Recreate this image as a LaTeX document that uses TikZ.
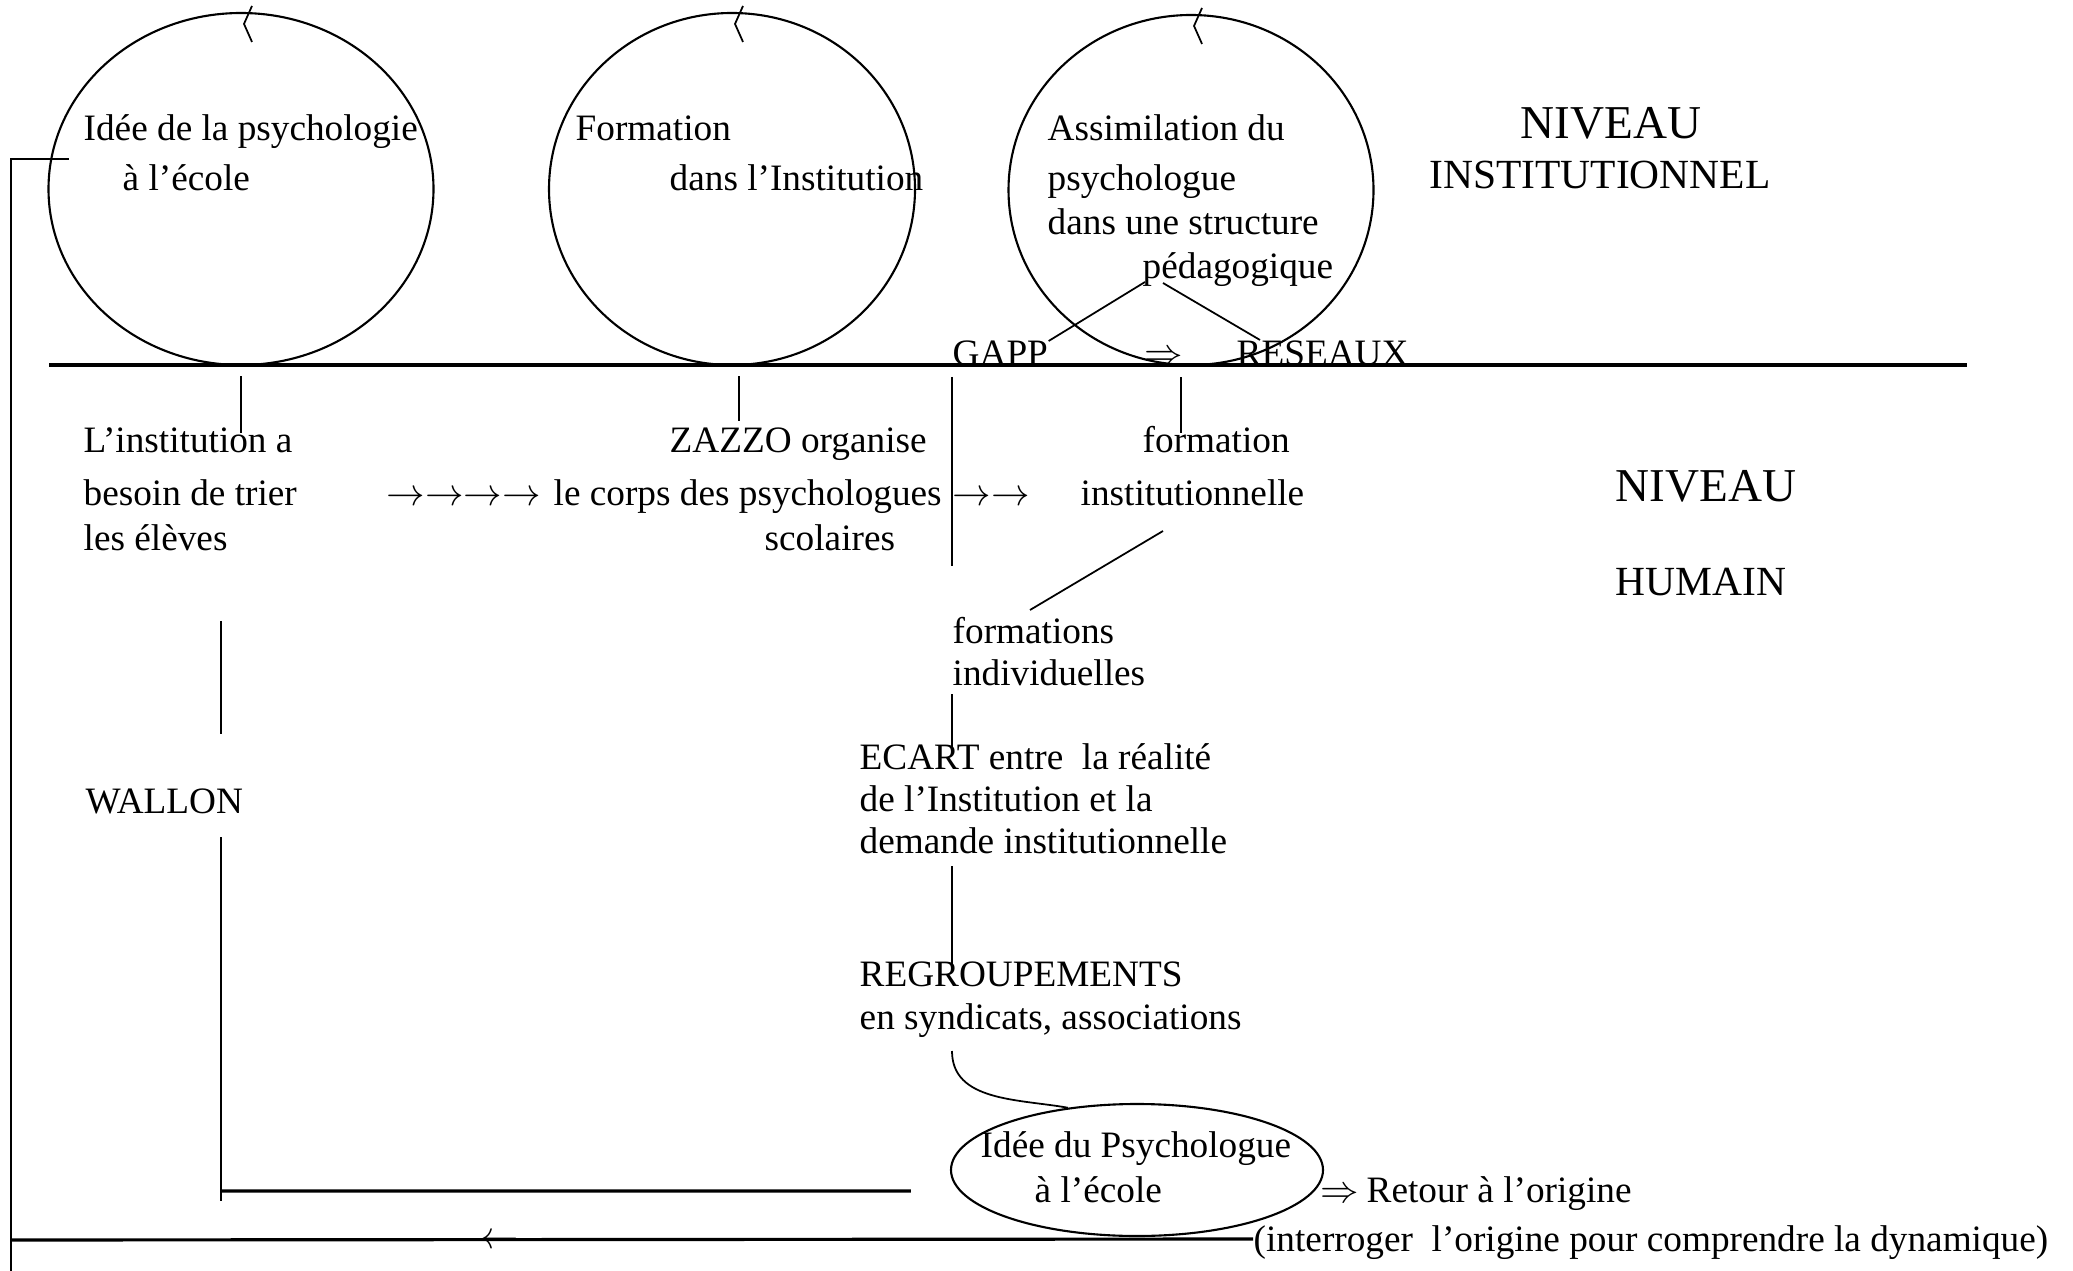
\documentclass[tikz,border=0pt]{standalone}
\usepackage{fontspec}
\setmainfont{Liberation Serif}
\usepackage{tikz}
\usetikzlibrary{shapes,positioning,calc}

\begin{document}
\begin{tikzpicture}[
    txt/.style={anchor=west, inner sep=0pt, text height=0.7em, text depth=0pt, font=\fontsize{10.6}{12.7}\selectfont},
    big/.style={inner sep=0pt, text height=0.7em, text depth=0pt, font=\fontsize{13.4}{16}\selectfont},
    mid/.style={inner sep=0pt, text height=0.7em, text depth=0pt, font=\fontsize{11.8}{14}\selectfont},
    bulle/.style={draw, ellipse, inner sep=0pt, line width=0.6pt},
    trait/.style={line width=0.5pt},
    gros/.style={line width=0.9pt}]

    \useasboundingbox (0,0) rectangle (20.73,-12.71);

    % Niveau institutionnel
    \node[bulle, minimum width=3.85cm, minimum height=3.52cm] (e1) at (2.41,-1.89) {};
    \node[bulle, minimum width=3.66cm, minimum height=3.52cm] (e2) at (7.32,-1.89) {};
    \node[bulle, minimum width=3.65cm, minimum height=3.50cm] (e3) at (11.91,-1.90) {};
    \foreach \e in {e1,e2,e3}
        \draw[trait] ([xshift=1.1mm,yshift=0.6mm]\e.north) -- ++(-0.08,-0.18) -- ++(0.08,-0.18);

    \node[txt] (idee) at (0.83,-1.28) {Idée de la psychologie};
    \node[txt] (ecole) at (1.22,-1.78) {à l’école};
    \node[txt] (form) at (5.75,-1.28) {Formation};
    \node[txt] (inst) at (6.69,-1.78) {dans l’Institution};
    \node[txt] (assim) at (10.47,-1.28) {Assimilation du};
    \node[txt] (psy) at (10.47,-1.78) {psychologue};
    \node[txt] (struct) at (10.47,-2.22) {dans une structure};
    \node[txt] (peda) at (11.42,-2.66) {pédagogique};

    \node[big] (niv1) at (16.11,-1.26) {NIVEAU};
    \node[mid] (instl) at (16.00,-1.76) {INSTITUTIONNEL};

    \node[txt] (gapp) at (9.52,-3.53) {GAPP};
    \node[txt] (impl) at (11.44,-3.53) {$\Rightarrow$};
    \node[txt] (res) at (12.36,-3.53) {RESEAUX};

    % Separation
    \coordinate (sepg) at (0.49,-3.65);
    \coordinate (sepd) at (19.67,-3.65);
    \draw[gros] (sepg) -- (sepd);

    % Niveau humain
    \node[txt] (inst1) at (0.83,-4.40) {L’institution a};
    \node[txt] (inst2) at (0.83,-4.93) {besoin de trier};
    \node[txt] (eleves) at (0.83,-5.38) {les élèves};
    \node[txt] (fl4) at (3.86,-4.93) {$\rightarrow\rightarrow\rightarrow\rightarrow$};
    \node[txt] (zazzo) at (6.69,-4.40) {ZAZZO organise};
    \node[txt] (corps) at (5.53,-4.93) {le corps des psychologues};
    \node[txt] (scol) at (7.64,-5.38) {scolaires};
    \node[txt] (fl2) at (9.52,-4.93) {$\rightarrow\rightarrow$};
    \node[txt] (forminst) at (11.42,-4.40) {formation};
    \node[txt] (instn) at (10.80,-4.93) {institutionnelle};
    \node[txt] (frm) at (9.52,-6.31) {formations};
    \node[txt] (indiv) at (9.52,-6.73) {individuelles};

    \node[big, anchor=west] (niv2) at (16.15,-4.89) {NIVEAU};
    \node[mid, anchor=west] (hum) at (16.15,-5.83) {HUMAIN};

    \node[txt] (wal) at (0.85,-8.01) {WALLON};

    \node[txt] (ecart) at (8.59,-7.57) {ECART entre\ \ la réalité};
    \node[txt] (delinst) at (8.59,-7.99) {de l’Institution et la};
    \node[txt] (dem) at (8.59,-8.41) {demande institutionnelle};
    \node[txt] (regr) at (8.59,-9.74) {REGROUPEMENTS};
    \node[txt] (synd) at (8.59,-10.17) {en syndicats, associations};

    % Retour
    \node[bulle, minimum width=3.72cm, minimum height=1.32cm] (e4) at (11.37,-11.70) {};
    \node[txt] (ideep) at (9.80,-11.45) {Idée du Psychologue};
    \node[txt] (ecole2) at (10.34,-11.90) {à l’école};
    \node[txt] (impl2) at (13.20,-11.90) {$\Rightarrow$};
    \node[txt] (retour) at (13.66,-11.90) {Retour à l’origine};
    \node[txt] (interr) at (12.53,-12.39) {(interroger\ \ l’origine pour comprendre la dynamique)};
    \node[txt, anchor=center] (retfl) at (5.00,-12.36) {$\leftarrow$};

    % Connections
    \draw[trait] ([yshift=-1mm]e1.south) -- ([yshift=-6.7mm]e1.south);
    \draw[trait] ([xshift=0.7mm,yshift=-1mm]e2.south) -- ([xshift=0.7mm,yshift=-5.5mm]e2.south);
    \draw[trait] ([yshift=-1.1mm]gapp.south west) -- ([yshift=-20mm]gapp.south west);
    \draw[trait] ([xshift=-1mm,yshift=-1.1mm]e3.south) -- ([xshift=-1mm,yshift=-6.7mm]e3.south);
    \draw[trait] ([xshift=0.3mm,yshift=-0.3mm]peda.south west) -- ([yshift=-0.1mm]gapp.north east);
    \draw[trait] ([xshift=2.1mm,yshift=-0.4mm]peda.south west) -- ([xshift=2.4mm]res.north west);
    \draw[trait] ([xshift=8.3mm,yshift=-2.5mm]instn.south west) -- ([xshift=7.8mm,yshift=0.8mm]frm.north west);
    \draw[trait] ([yshift=-0.8mm]indiv.south west) -- ([xshift=9.3mm,yshift=-0.3mm]ecart.north west);
    \draw[trait] ([xshift=9.3mm,yshift=-1.2mm]dem.south west) -- ([xshift=9.3mm,yshift=-0.6mm]regr.north west);
    \draw[trait] ([xshift=9.3mm,yshift=-2.1mm]synd.south west) to[out=-90, in=170] (e4.138);

    \coordinate (w1) at (2.21,-6.21);
    \coordinate (w2) at (2.21,-7.34);
    \coordinate (w3) at (2.21,-8.37);
    \coordinate (w4) at (2.21,-11.91);
    \draw[trait] (w1) -- (w2);
    \draw[trait] (w3) -- ([yshift=-1mm]w4);
    \draw[gros] ([xshift=-3.9mm,yshift=-2.1mm]e4.west) -- (w4);

    \coordinate (b1) at (0.11,-12.40);
    \coordinate (b2) at (0.11,-12.71);
    \coordinate (b3) at (0.11,-1.59);
    \coordinate (b4) at (0.69,-1.59);
    \draw[gros] (interr.west) -- (b1);
    \draw[trait] (b2) -- (b3) -- (b4);
\end{tikzpicture}
\end{document}
